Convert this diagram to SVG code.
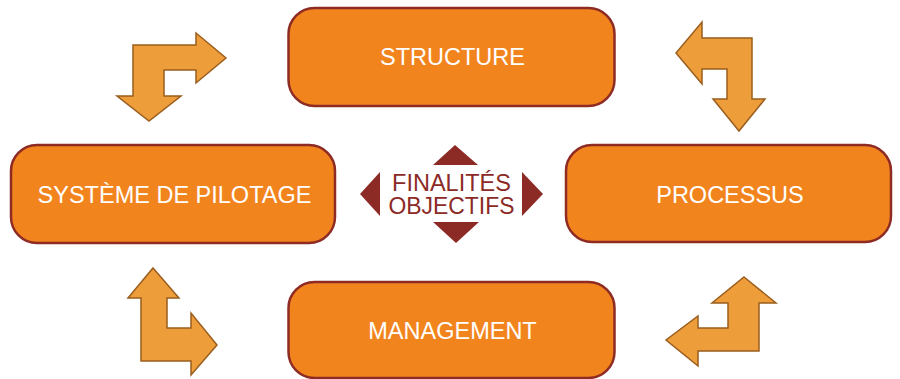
<svg xmlns="http://www.w3.org/2000/svg" width="900" height="379" viewBox="0 0 900 379">
<style>
.box{fill:#F2841E;stroke:#8E2B24;stroke-width:2.5}
.lbl{font-family:"Liberation Sans",Arial,sans-serif;font-size:23.5px;fill:#FFFFFF;text-anchor:middle}
.arr{fill:#EE9D3B;stroke:#9A5E1E;stroke-width:1.5;stroke-linejoin:miter}
.tri{fill:#8C2A26}
.ctr{font-family:"Liberation Sans",Arial,sans-serif;font-size:23.5px;fill:#8C2A26;text-anchor:middle}
</style>
<rect width="900" height="379" fill="#FFFFFF"/>
<g id="connectors">
<path class="arr" d="M133,45 L196,45 L196,33 L226,58 L196,83 L196,70 L164,70 L164,96 L181,96 L149,121 L117,96 L133,96 Z"/>
<path class="arr" d="M676,53 L702,22 L702,38 L752,38 L752,99 L765,99 L739,131 L713,99 L727,99 L727,69 L702,69 L702,84 Z"/>
<path class="arr" d="M153,268 L179,298 L167,298 L167,328 L191,328 L191,313 L217,345 L191,375 L191,361 L141,361 L141,298 L128,298 Z"/>
<path class="arr" d="M744,277 L776,303 L759,303 L759,351 L698,351 L698,366 L666,340 L698,316 L698,328 L728,328 L728,303 L712,303 Z"/>
</g>
<g id="structure">
<rect class="box" x="288.5" y="8" width="326" height="98" rx="26"/>
<text class="lbl" x="452.5" y="65">STRUCTURE</text>
</g>
<g id="systeme">
<rect class="box" x="11" y="145" width="324" height="98" rx="26"/>
<text class="lbl" x="174.5" y="202.5">SYSTÈME DE PILOTAGE</text>
</g>
<g id="processus">
<rect class="box" x="566" y="145" width="325" height="97" rx="26"/>
<text class="lbl" x="730" y="203">PROCESSUS</text>
</g>
<g id="management">
<rect class="box" x="288.5" y="282" width="326" height="96" rx="26"/>
<text class="lbl" x="452.5" y="339">MANAGEMENT</text>
</g>
<g id="center">
<polygon class="tri" points="455,145 478,165 433,165"/>
<polygon class="tri" points="433,222 479,222 456,243"/>
<polygon class="tri" points="360,194 380,172 380,216"/>
<polygon class="tri" points="522,172 543,194 522,216"/>
<text class="ctr" x="451.5" y="191">FINALITÉS</text>
<text class="ctr" x="451.5" y="214" textLength="126" lengthAdjust="spacingAndGlyphs">OBJECTIFS</text>
</g>
</svg>
